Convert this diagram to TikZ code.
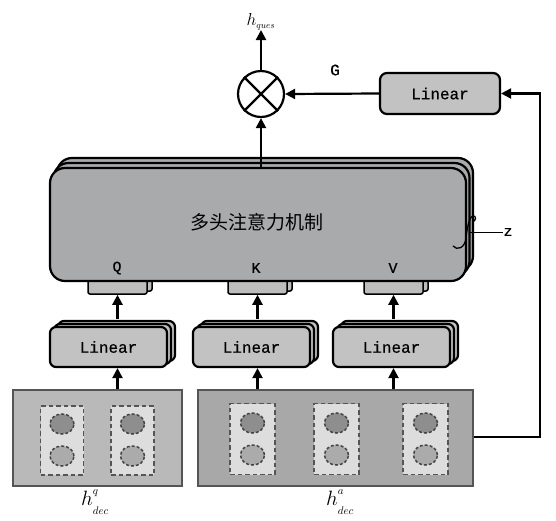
\documentclass[tikz,border=0pt]{standalone}
\usepackage{fontspec}
\newfontfamily\mono[FakeBold=0.4]{Liberation Mono}
\newfontfamily\cjk{Noto Sans CJK SC}
\usetikzlibrary{arrows.meta,shapes.geometric}
\definecolor{bigfill}{HTML}{A9AAAC}
\definecolor{linfill}{HTML}{C2C2C2}
\definecolor{tabfill}{HTML}{BDBDBD}
\definecolor{lboxfill}{HTML}{B9B9B9}
\definecolor{rboxfill}{HTML}{A8A8A8}
\definecolor{innerfill}{HTML}{DDDDDD}
\definecolor{darkell}{HTML}{8E8E8E}
\definecolor{lightell}{HTML}{ABABAB}
\definecolor{edge}{HTML}{555555}
\begin{document}
\begin{tikzpicture}[x=1pt,y=-1pt,
  arr/.style={line width=2.2pt,-{Triangle[length=10pt,width=10pt]}},
  linbox/.style={draw,line width=2.2pt,rounded corners=6pt,fill=linfill,
    minimum width=117pt,minimum height=40pt,inner sep=0pt,
    font=\mono\fontsize{16}{16}\selectfont},
  linlayer/.style={draw,line width=2.2pt,rounded corners=6pt,fill=linfill},
  biglayer/.style={draw,line width=2.2pt,rounded corners=15pt,fill=bigfill},
  tabbox/.style={draw,line width=1.5pt,rounded corners=2pt,fill=tabfill},
  lbl/.style={font=\mono\fontsize{15}{15}\selectfont,inner sep=0pt},
  hlbl/.style={font=\fontsize{22}{22}\selectfont,inner sep=0pt},
  outerbox/.style={draw=edge,line width=1.5pt},
  dashbox/.style={draw=edge,fill=innerfill,line width=1.6pt,dash pattern=on 4.5pt off 3pt},
  ell/.style={ellipse,draw=edge!80!black,line width=1.5pt,dash pattern=on 3pt off 2pt,
    minimum width=24pt,minimum height=20pt,inner sep=0pt}
]
\useasboundingbox[fill=white] (0,0) rectangle (556,520);

% ---------- bottom input boxes ----------
\node[outerbox,fill=lboxfill,minimum width=169pt,minimum height=96pt,inner sep=0pt] (hq) at (97.5,438) {};
\node[outerbox,fill=rboxfill,minimum width=275pt,minimum height=96pt,inner sep=0pt] (ha) at (335.5,438) {};
\foreach \cx/\nm in {62/q1,132.5/q2} {
  \node[dashbox,minimum width=43pt,minimum height=69pt,inner sep=0pt] (\nm) at (\cx,440.5) {};
  \node[ell,fill=darkell] (\nm u) at (\cx,424) {};
  \node[ell,fill=lightell] (\nm d) at (\cx,456) {};
}
\foreach \cx/\nm in {252.5/a1,336.5/a2,425.5/a3} {
  \node[dashbox,minimum width=45pt,minimum height=71pt,inner sep=0pt] (\nm) at (\cx,439) {};
  \node[ell,fill=darkell] (\nm u) at (\cx,423) {};
  \node[ell,fill=lightell] (\nm d) at (\cx,455) {};
}
\node[hlbl] (hqlab) at (95,502) {$h^{\raisebox{3pt}{$\scriptscriptstyle q$}}_{\raisebox{-4pt}{$\scriptscriptstyle dec$}}$};
\node[hlbl] (halab) at (340,502) {$h^{\raisebox{3pt}{$\scriptscriptstyle a$}}_{\raisebox{-4pt}{$\scriptscriptstyle dec$}}$};

% ---------- Linear stacks ----------
\foreach \cx/\nm in {108.5/L1,251.5/L2,391.5/L3} {
  \foreach \d in {2,1}
    \draw[linlayer] ({\cx-58.5+4*\d},{327-3*\d}) rectangle ++(117,40);
  \node[linbox] (\nm) at (\cx,347) {Linear};
}

% ---------- tabs ----------
\foreach \cx/\nm in {117.5/tq,257.5/tk,393.5/tv} {
  \draw[tabbox] ({\cx-29.5+5},276) rectangle ++(59,15);
  \node[tabbox,minimum width=59pt,minimum height=16pt,inner sep=0pt] (\nm) at (\cx,286) {};
}

% ---------- multi-head attention ----------
\draw[biglayer] (57,158) rectangle (473,271);
\draw[biglayer] (53.5,163) rectangle (469.5,276);
\node[biglayer,minimum width=416pt,minimum height=113pt,inner sep=0pt] (mha) at (258,224.5) {};
\node[font=\cjk\fontsize{19}{19}\selectfont] (mhat) at (257,222) {多头注意力机制};
\node[lbl] (Q) at (117,268) {Q};
\node[lbl] (K) at (256,268) {K};
\node[lbl] (V) at (393,268) {V};

% z brace
\draw[line width=1.3pt] (453,246) .. controls (457,251) and (465,248) .. (466,238)
  .. controls (467,229) and (468,224) .. (470,219) .. controls (473,213) and (479,217) .. (473,222);
\coordinate (zs) at (470,232);
\node[lbl] (z) at (508,232) {z};
\draw[line width=1pt] (zs) -- (z.west);

% ---------- top part ----------
\node[circle,draw,line width=2.2pt,minimum size=46pt,inner sep=0pt] (circ) at (261,94) {};
\draw[line width=2.2pt] (circ.north west) -- (circ.south east);
\draw[line width=2.2pt] (circ.north east) -- (circ.south west);
\node[font=\fontsize{18}{18}\selectfont,inner sep=0pt,anchor=south] (hques) at (261,30) {$h_{\scriptscriptstyle ques}$};
\node[draw,line width=2.2pt,rounded corners=7pt,fill=linfill,minimum width=120pt,minimum height=41pt,
  inner sep=0pt,font=\mono\fontsize{16}{16}\selectfont] (Ltop) at (440,93.5) {Linear};
\node[font=\mono\fontsize{16}{16}\selectfont,inner sep=0pt] (G) at (335,70) {G};

% ---------- connectors ----------
\draw[arr] (circ.north) -- (hques.south);
\draw[arr] (mha.north -| circ) -- (circ.south);
\draw[arr] (Ltop.west) -- (circ.east);
\coordinate (rc) at (540,437);
\draw[arr] (ha.east |- rc) -- (rc) -- (rc |- Ltop.east) -- (Ltop.east);
\foreach \l/\t/\b in {L1/tq/hq,L2/tk/ha,L3/tv/ha} {
  \draw[arr] (\l.north -| \t) ++(0,-7) -- (\t.south);
  \draw[arr] (\b.north -| \t) -- (\l.south -| \t);
}
\end{tikzpicture}
\end{document}
